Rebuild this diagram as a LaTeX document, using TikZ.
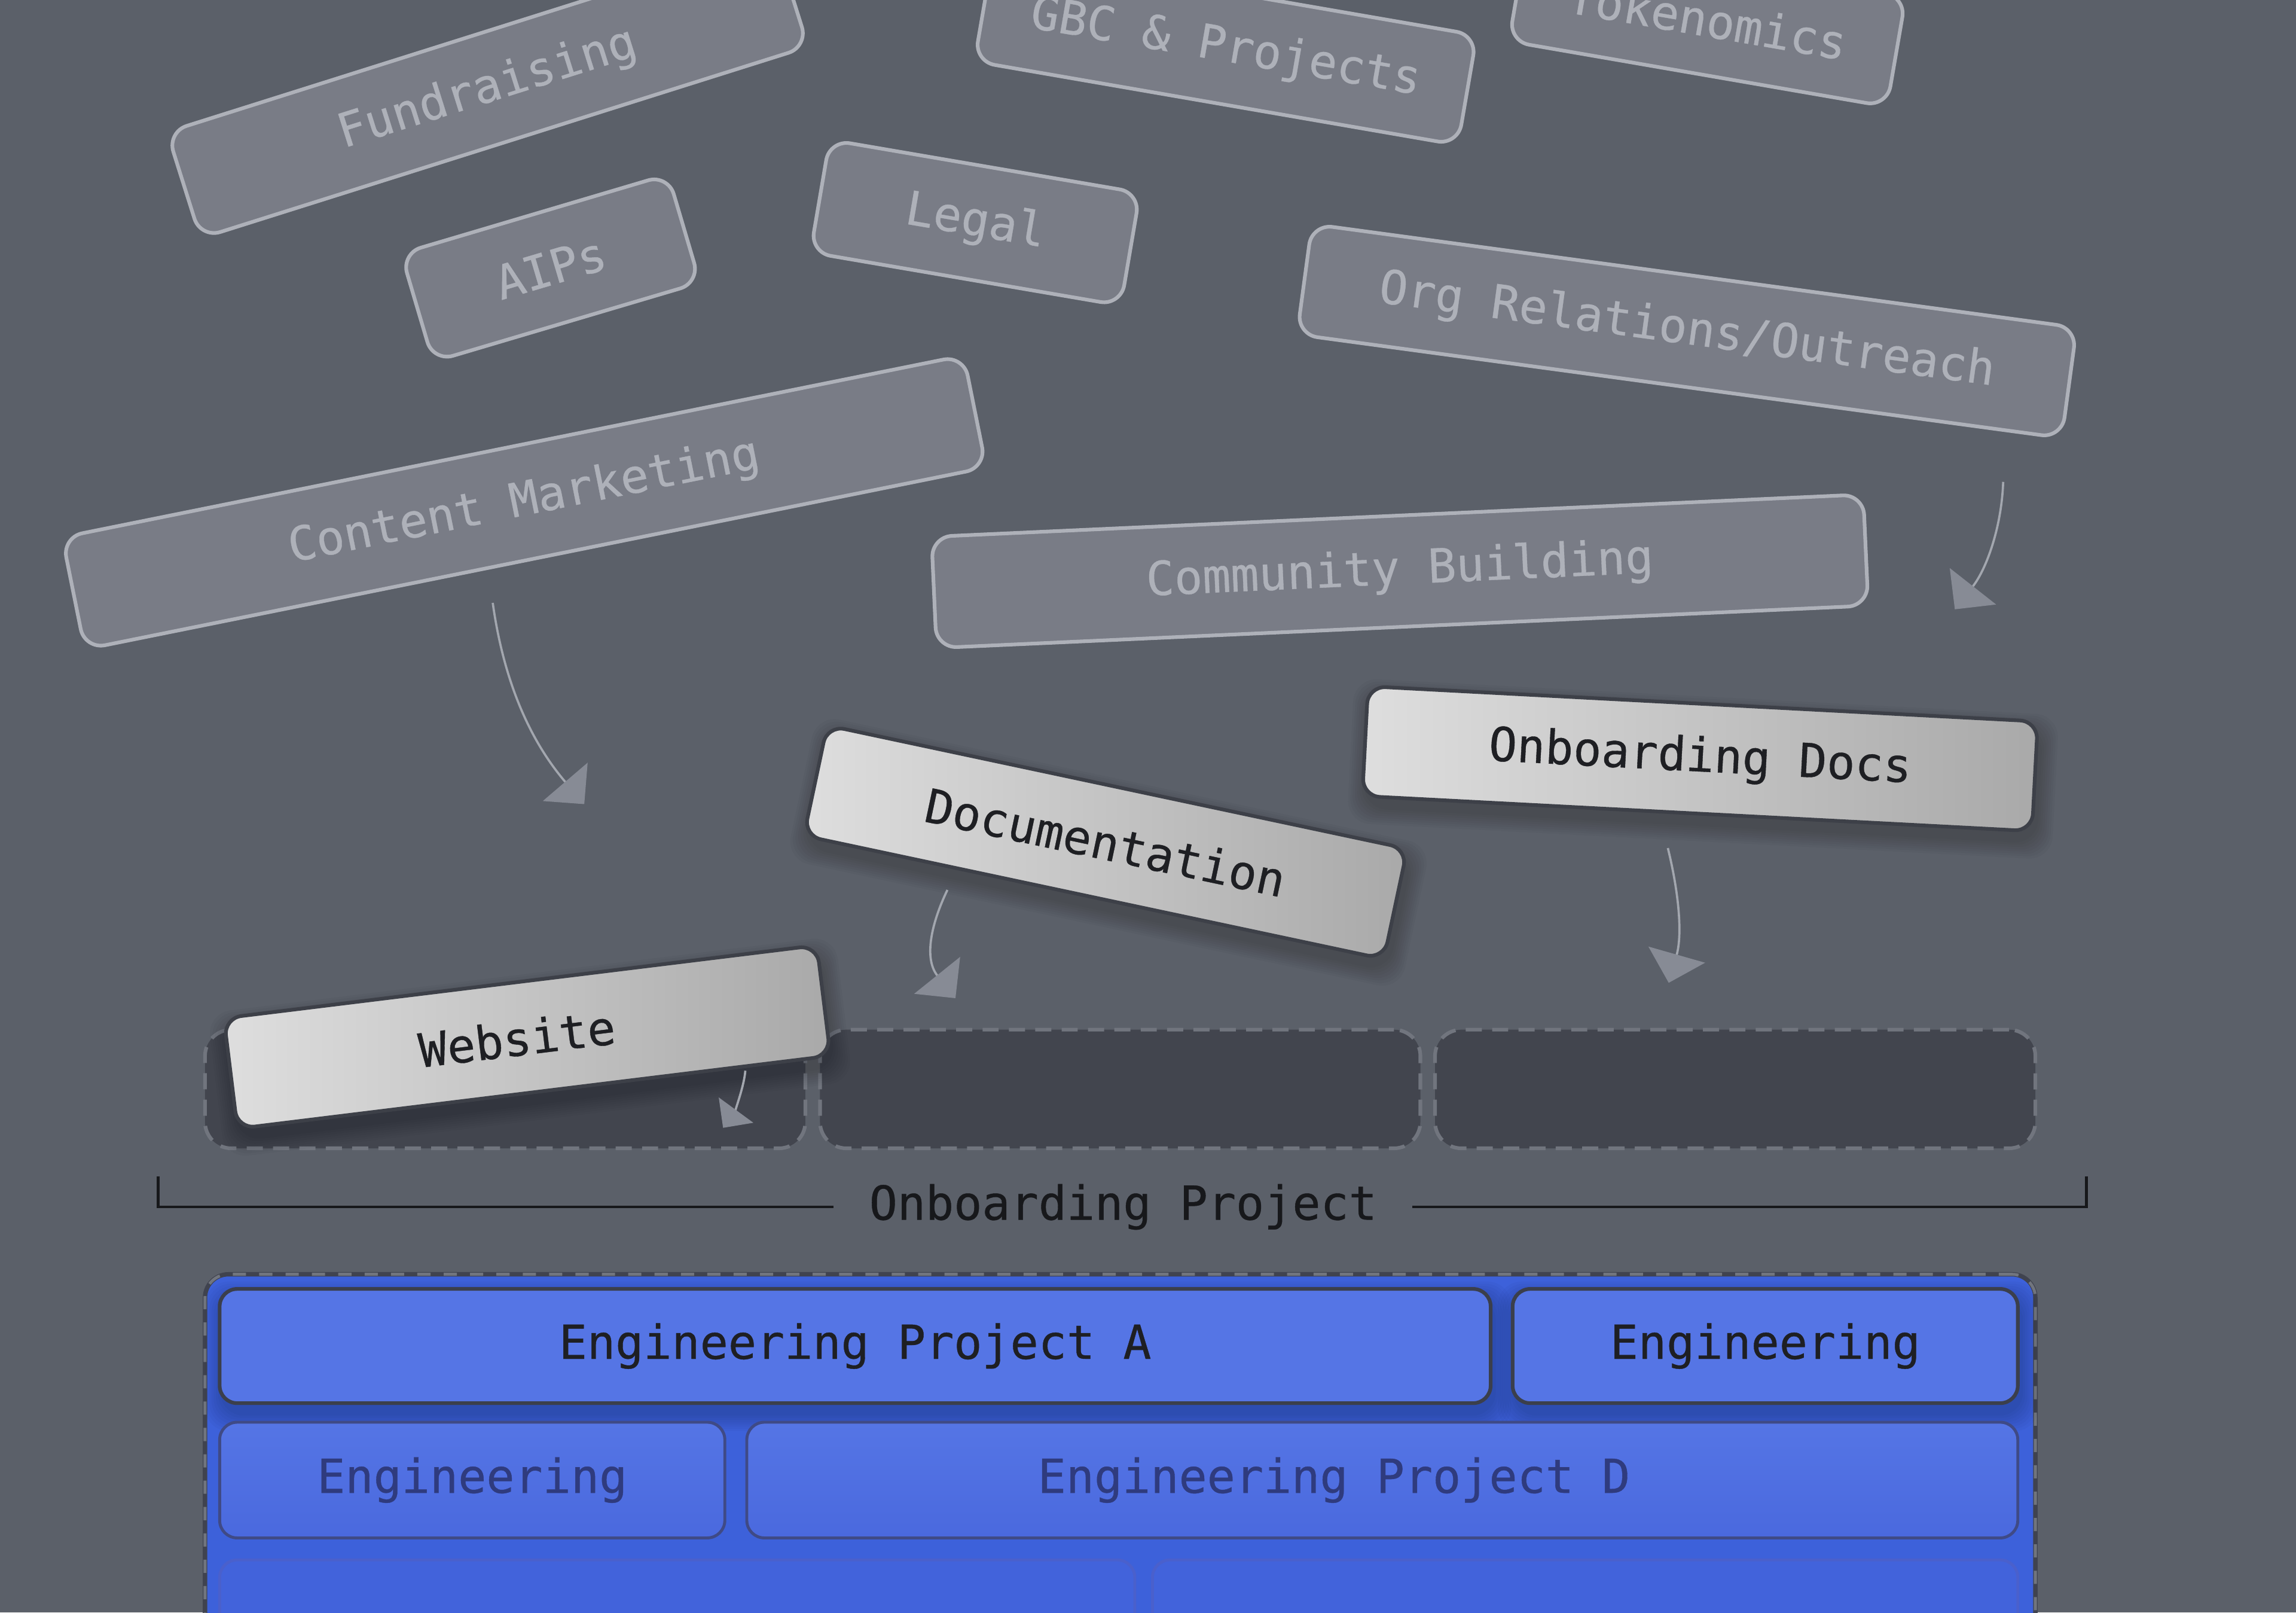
\documentclass[tikz,border=0pt]{standalone}
\usepackage{fontspec}
\newfontfamily\monofont[FakeBold=0.5]{DejaVu Sans Mono}
\usetikzlibrary{arrows.meta,calc}

\definecolor{bgC}{HTML}{5B6069}
\definecolor{ghostFill}{HTML}{797C86}
\definecolor{ghostLine}{HTML}{AEB1B9}
\definecolor{slotFill}{HTML}{42454E}
\definecolor{slotLine}{HTML}{71757E}
\definecolor{cardL}{HTML}{DEDEDE}
\definecolor{cardR}{HTML}{A9A9A9}
\definecolor{cardLine}{HTML}{3D4048}
\definecolor{inkC}{HTML}{1E1F23}
\definecolor{connC}{HTML}{A3A7AF}
\definecolor{headC}{HTML}{878B95}
\definecolor{blueC}{HTML}{3D61DA}
\definecolor{blueA}{HTML}{5575E5}
\definecolor{blueB}{HTML}{4A69DE}
\definecolor{blueE}{HTML}{4263DB}
\definecolor{engLine}{HTML}{3B3F4C}
\definecolor{engLineB}{HTML}{3F4A86}
\definecolor{engLineC}{HTML}{4A60CC}
\definecolor{engInkB}{HTML}{2F3B7E}
\definecolor{bracketC}{HTML}{17181B}
\definecolor{contLine}{HTML}{40434F}

\tikzset{
  txt/.style={font=\monofont\fontsize{32}{38}\selectfont},
  ghost/.style={txt, draw=ghostLine, fill=ghostFill, text=ghostLine, line width=2.5pt, rounded corners=14pt, inner sep=0pt},
  card/.style={txt, draw=cardLine, left color=cardL, right color=cardR, text=inkC, line width=2.5pt, rounded corners=12pt, inner sep=0pt},
  shadowlayer/.style={fill=black, fill opacity=0.025, rounded corners=16pt, inner sep=0pt},
  slotbox/.style={draw=slotLine, fill=slotFill, dash pattern=on 11pt off 7pt, line width=2.5pt, rounded corners=18pt, minimum width=410pt, minimum height=81pt, inner sep=0pt},
  conn/.style={draw=connC, line width=1.5pt, -{Triangle[width=40pt,length=20pt,color=headC]}},
  connsmall/.style={draw=connC, line width=1.5pt, -{Triangle[width=29pt,length=15pt,color=headC]}},
  bracketline/.style={draw=bracketC, line width=2pt},
  engA/.style={txt, draw=engLine, fill=blueA, text=inkC, line width=2.5pt, rounded corners=12pt, inner sep=0pt, minimum height=78pt},
  engB/.style={txt, draw=engLineB, top color=blueA, bottom color=blueB, text=engInkB, line width=2pt, rounded corners=12pt, inner sep=0pt, minimum height=79pt},
  engC/.style={draw=engLineC, fill=blueE, line width=2pt, rounded corners=12pt, inner sep=0pt, minimum height=75pt},
}

\newcommand\softshade[6]{%
  \foreach \k in {1,...,8}{%
    \node[shadowlayer, name=#1-sh\k, rotate=#4, minimum width={#5+3*\k}, minimum height={#6+3*\k}] at ({#2+2},{#3+7}) {};
  }%
}

\begin{document}
\begin{tikzpicture}[x=1pt,y=-1pt]
\useasboundingbox (0,0) rectangle (1568,1101);
\clip (0,0) rectangle (1568,1101);
\fill[bgC] (0,0) rectangle (1568,1101);

% ghost topics
\node[ghost, rotate=17.5, minimum width=435pt, minimum height=76pt] (fund) at (333,61) {Fundraising};
\node[ghost, rotate=-9.8, minimum width=335pt, minimum height=76pt] (gbc) at (837,33) {GBC \& Projects};
\node[ghost, rotate=-9.8, minimum width=262pt, minimum height=76pt] (tok) at (1166,13) {Tokenomics};
\node[ghost, rotate=16.5, minimum width=190pt, minimum height=77pt] (aips) at (376,183) {AIPs};
\node[ghost, rotate=-9.7, minimum width=215pt, minimum height=78pt] (legal) at (666,152) {Legal};
\node[ghost, rotate=-7.7, minimum width=527pt, minimum height=76pt] (org) at (1152,226) {Org Relations/Outreach};
\node[ghost, rotate=11.4, minimum width=628pt, minimum height=78pt] (cm) at (358,343) {Content Marketing};
\node[ghost, rotate=2.6, minimum width=637pt, minimum height=76pt] (comm) at (956,390) {Community Building};

% ghost connectors
\coordinate (cmS) at (336.5,411.6);
\coordinate (cmE) at (399,549);
\draw[conn] (cmS) .. controls ($(cmS)+(7,50)$) and ($(cmE)+(-39,-45.6)$) .. (cmE);
\coordinate (orS) at (1368,329);
\coordinate (orE) at (1335,416);
\draw[conn] (orS) .. controls ($(orS)+(-1,30)$) and ($(orE)+(22,-28)$) .. (orE);

% onboarding slots
\node[slotbox] (slot1) at (345,743.5) {};
\node[slotbox] (slot2) at (765,743.5) {};
\node[slotbox] (slot3) at (1185,743.5) {};

% bracket
\node[txt, text=bracketC, inner xsep=24pt, inner ysep=0pt] (optitle) at (767,824) {Onboarding Project};
\coordinate (brL) at (108,803);
\coordinate (brR) at (1425,803);
\draw[bracketline] (brL) |- (optitle.west);
\draw[bracketline] (brR) |- (optitle.east);

% engineering container
\node[draw=contLine, fill=blueC, line width=3pt, rounded corners=16pt, minimum width=1250pt, minimum height=260pt, inner sep=0pt,
      postaction={draw=slotLine, line width=2pt, dash pattern=on 9pt off 9pt}] (engbox) at (765,1000) {};
\softshade{engAsh}{584}{919}{0}{868}{78}
\softshade{engBsh}{1205.5}{919}{0}{345}{78}
\node[engA, minimum width=868pt] (engPA) at (584,919) {Engineering Project A};
\node[engA, minimum width=345pt] (engPB) at (1205.5,919) {Engineering};
\node[engB, minimum width=345pt] (engPC) at (322.5,1010.5) {Engineering};
\node[engB, minimum width=868pt] (engPD) at (944,1010.5) {};
\node[txt, text=engInkB, inner sep=0pt] (engPDt) at (911,1010.5) {Engineering Project D};
\node[engC, minimum width=625pt] (engPE) at (462.5,1102.5) {};
\node[engC, minimum width=591pt] (engPF) at (1082.5,1102.5) {};

% highlighted cards
\softshade{od}{1161}{518}{-3}{458}{75}
\softshade{doc}{755}{575}{-12}{405}{77}
\softshade{web}{360}{708}{7}{408}{76}
\node[card, rotate=-3, minimum width=458pt, minimum height=75pt] (odocs) at (1161,518) {Onboarding Docs};
\node[card, rotate=-12, minimum width=405pt, minimum height=77pt] (docn) at (755,575) {Documentation};
\node[card, rotate=7, minimum width=408pt, minimum height=76pt] (webs) at (360,708) {\hspace*{-14pt}Website};

% card connectors
\coordinate (docS) at (647,607.6);
\coordinate (docE) at (652.5,681.5);
\draw[conn] (docS) .. controls ($(docS)+(-10.8,22.4)$) and ($(docE)+(-21.9,-27.3)$) .. (docE);
\coordinate (odS) at (1139,579);
\coordinate (odE) at (1139.6,671);
\draw[conn] (odS) .. controls ($(odS)+(7.2,29.1)$) and ($(odE)+(9.6,-33.7)$) .. (odE);
\coordinate (webS) at (509,731);
\coordinate (webE) at (493.8,770);
\draw[connsmall] (webS) .. controls ($(webS)+(-1,12)$) and ($(webE)+(7.1,-9.7)$) .. (webE);
\end{tikzpicture}
\end{document}
